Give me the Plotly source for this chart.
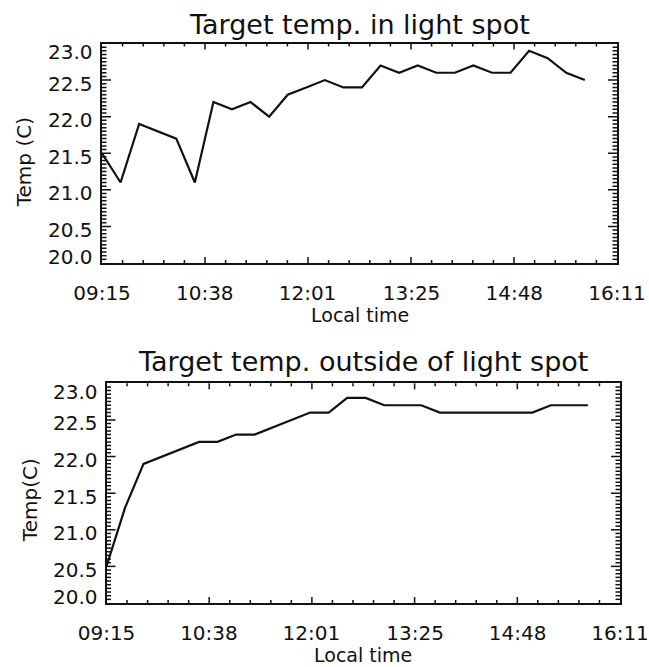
import plotly.graph_objects as go

# Sample times (local time, every 15 minutes)
times = ["09:15", "09:30", "09:45", "10:00", "10:15", "10:30", "10:45", "11:00", "11:15",
         "11:30", "11:45", "12:00", "12:15", "12:30", "12:45", "13:00", "13:15", "13:30",
         "13:45", "14:00", "14:15", "14:30", "14:45", "15:00", "15:15", "15:30", "15:45"]

# Target temperature inside the light spot (C)
temp_in_spot = [21.5, 21.1, 21.9, 21.8, 21.7, 21.1, 22.2, 22.1, 22.2,
                22.0, 22.3, 22.4, 22.5, 22.4, 22.4, 22.7, 22.6, 22.7,
                22.6, 22.6, 22.7, 22.6, 22.6, 22.9, 22.8, 22.6, 22.5]

# Target temperature outside the light spot (C)
temp_outside_spot = [20.5, 21.3, 21.9, 22.0, 22.1, 22.2, 22.2, 22.3, 22.3,
                     22.4, 22.5, 22.6, 22.6, 22.8, 22.8, 22.7, 22.7, 22.7,
                     22.6, 22.6, 22.6, 22.6, 22.6, 22.6, 22.7, 22.7, 22.7]

x_tick_labels = ["09:15", "10:38", "12:01", "13:25", "14:48", "16:11"]
y_tick_values = [20.0, 20.5, 21.0, 21.5, 22.0, 22.5, 23.0]

titles = ["Target temp. in light spot", "Target temp. outside of light spot"]
y_titles = ["Temp (C)", "Temp(C)"]
x_title = "Local time"


def to_minutes(s):
    h, m = s.split(":")
    return int(h) * 60 + int(m)


x_min = [to_minutes(t) for t in times]
x_ticks = [to_minutes(t) for t in x_tick_labels]
x_start, x_end = x_ticks[0], x_ticks[-1]
y_lo, y_hi = y_tick_values[0], y_tick_values[-1]

# tick marks: 5 minor intervals per labelled x interval, 10 per 0.5 C on y
X_SUB, Y_SUB = 5, 10
n_x = (len(x_ticks) - 1) * X_SUB
x_marks = [(x_start + k * (x_end - x_start) / n_x, k % X_SUB == 0) for k in range(1, n_x)]
n_y = (len(y_tick_values) - 1) * Y_SUB
y_marks = [(y_lo + k * (y_hi - y_lo) / n_y, k % Y_SUB == 0) for k in range(1, n_y)]

FONT = "DejaVu Sans"
INK = "#111111"
W, H = 649, 667

# plot boxes in pixels, with the title / label offsets of each panel
panels = [
    dict(xa="x", ya="y", l=102, r=617, t=43.5, b=263, series=temp_in_spot,
         title=titles[0], title_gap=19, ytitle=y_titles[0], ytitle_x=24, ytitle_dy=9),
    dict(xa="x2", ya="y2", l=106.5, r=620, t=383.3, b=603, series=temp_outside_spot,
         title=titles[1], title_gap=21.5, ytitle=y_titles[1], ytitle_x=30, ytitle_dy=7),
]

fig = go.Figure()
layout = dict(width=W, height=H, margin=dict(l=0, r=0, t=0, b=0, autoexpand=False),
              paper_bgcolor="white", plot_bgcolor="white", showlegend=False)
shapes, annotations = [], []

for p in panels:
    xa, ya = p["xa"], p["ya"]
    fig.add_trace(go.Scatter(x=x_min, y=p["series"], mode="lines",
                             line=dict(color=INK, width=2.2), xaxis=xa, yaxis=ya))
    xkey = "xaxis" + xa[1:]
    ykey = "yaxis" + ya[1:]
    layout[xkey] = dict(domain=[p["l"] / W, p["r"] / W], anchor=ya,
                        range=[x_start, x_end], tickmode="array", tickvals=x_ticks,
                        ticktext=x_tick_labels, ticks="", showline=True, linewidth=2,
                        linecolor=INK, mirror=True, showgrid=False, zeroline=False,
                        automargin=False, ticklabelstandoff=11,
                        tickfont=dict(family=FONT, size=20, color=INK))
    layout[ykey] = dict(domain=[1 - p["b"] / H, 1 - p["t"] / H], anchor=xa,
                        range=[y_lo, y_hi], showticklabels=False, ticks="",
                        showline=True, linewidth=2, linecolor=INK, mirror=True,
                        showgrid=False, zeroline=False, automargin=False)

    # inward tick marks on all four sides
    for v, major in x_marks:
        L = 6 if major else 3
        for anchor, sign in [(0, 1), (1, -1)]:
            shapes.append(dict(type="line", xref=xa, yref=ya + " domain",
                               ysizemode="pixel", yanchor=anchor,
                               x0=v, x1=v, y0=0, y1=sign * L,
                               line=dict(color=INK, width=1.5)))
    for v, major in y_marks:
        L = 9 if major else 4.5
        for anchor, sign in [(0, 1), (1, -1)]:
            shapes.append(dict(type="line", xref=xa + " domain", yref=ya,
                               xsizemode="pixel", xanchor=anchor,
                               x0=0, x1=sign * L, y0=v, y1=v,
                               line=dict(color=INK, width=1.5)))

    # y tick labels; end labels are kept inside the box height
    for i, v in enumerate(y_tick_values):
        shift = -3.5
        if i == 0:
            shift = 6
        elif i == len(y_tick_values) - 1:
            shift = -9
        annotations.append(dict(text=f"{v:.1f}", x=(p["l"] - 7) / W, xref="paper",
                                xanchor="right", y=v, yref=ya, yanchor="middle",
                                yshift=shift, showarrow=False,
                                font=dict(family=FONT, size=20, color=INK)))

    cx = (p["l"] + p["r"]) / 2 / W
    annotations.append(dict(text=p["title"], x=cx, y=1 - (p["t"] - p["title_gap"]) / H,
                            xref="paper", yref="paper", xanchor="center",
                            yanchor="middle", showarrow=False,
                            font=dict(family=FONT, size=27, color=INK)))
    annotations.append(dict(text=x_title, x=cx, y=1 - (p["b"] + 52) / H,
                            xref="paper", yref="paper", xanchor="center",
                            yanchor="middle", showarrow=False,
                            font=dict(family=FONT, size=19, color=INK)))
    annotations.append(dict(text=p["ytitle"], x=p["ytitle_x"] / W,
                            y=1 - ((p["t"] + p["b"]) / 2 + p["ytitle_dy"]) / H,
                            xref="paper", yref="paper", xanchor="center",
                            yanchor="middle", showarrow=False, textangle=-90,
                            font=dict(family=FONT, size=20, color=INK)))

layout["shapes"] = shapes
layout["annotations"] = annotations
fig.update_layout(**layout)

fig.write_html("out.html")
